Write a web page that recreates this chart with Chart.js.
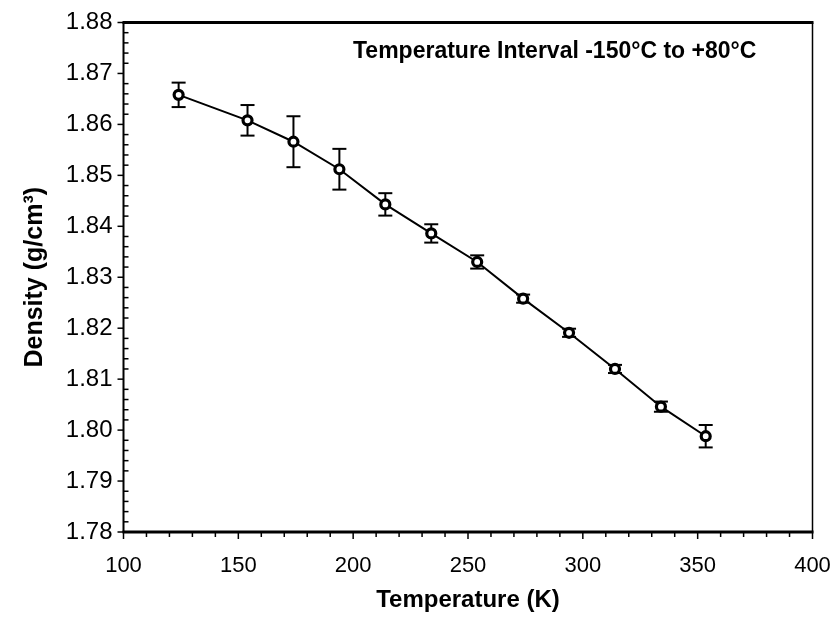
<!DOCTYPE html>
<html>
<head>
<meta charset="utf-8">
<script src="https://cdn.jsdelivr.net/npm/chart.js@4"></script>
<style>
  html, body { margin: 0; padding: 0; background: #fff; }
  #wrap { width: 833px; height: 617px; }
</style>
</head>
<body>
<div id="wrap"><canvas id="c" width="833" height="617"></canvas></div>
<script>
// Data
const temperatures = [124, 154, 174, 194, 214, 234, 254, 274, 294, 314, 334, 353.5];
const densities = [1.8658, 1.8608, 1.8566, 1.8512, 1.8443, 1.8386, 1.8330, 1.8258, 1.8191, 1.8120, 1.8046, 1.7988];
const errors = [0.0024, 0.0030, 0.0050, 0.0040, 0.0022, 0.0018, 0.0013, 0.0008, 0.0008, 0.0008, 0.0010, 0.0022];
const xTicks = [100, 150, 200, 250, 300, 350, 400];
const yTicks = [1.78, 1.79, 1.80, 1.81, 1.82, 1.83, 1.84, 1.85, 1.86, 1.87, 1.88];
const annotation = "Temperature Interval -150\u00B0C to +80\u00B0C";
const xTitle = "Temperature (K)";
const yTitle = "Density (g/cm\u00B3)";

const points = temperatures.map((t, i) => ({ x: t, y: densities[i] }));
const FONT = "'Liberation Sans', Arial, Helvetica, sans-serif";

const decorPlugin = {
  id: 'decor',
  beforeDatasetsDraw(chart) {
    const ctx = chart.ctx;
    const xs = chart.scales.x, ys = chart.scales.y;
    const a = chart.chartArea;
    ctx.save();
    ctx.strokeStyle = '#000';
    ctx.lineCap = 'butt';
    // frame
    ctx.lineWidth = 3;
    ctx.beginPath(); ctx.moveTo(a.left - 1, a.top); ctx.lineTo(a.right + 1, a.top); ctx.stroke();
    ctx.beginPath(); ctx.moveTo(a.left - 1, a.bottom); ctx.lineTo(a.right + 1, a.bottom); ctx.stroke();
    ctx.lineWidth = 2;
    ctx.beginPath(); ctx.moveTo(a.left, a.top); ctx.lineTo(a.left, a.bottom); ctx.stroke();
    ctx.lineWidth = 1.5;
    ctx.beginPath(); ctx.moveTo(a.right, a.top); ctx.lineTo(a.right, a.bottom); ctx.stroke();
    // x ticks (outward, below)
    ctx.lineWidth = 1.5;
    for (let v = 100; v <= 400; v += 10) {
      const px = xs.getPixelForValue(v);
      const major = v % 50 === 0;
      ctx.beginPath(); ctx.moveTo(px, a.bottom); ctx.lineTo(px, a.bottom + (major ? 7 : 5)); ctx.stroke();
    }
    // y ticks: major outward (left), minor inward (right)
    for (let k = 0; k <= 50; k++) {
      const v = 1.78 + k * 0.002;
      const py = ys.getPixelForValue(v);
      if (k % 5 === 0) {
        ctx.beginPath(); ctx.moveTo(a.left - 6, py); ctx.lineTo(a.left, py); ctx.stroke();
      } else {
        ctx.beginPath(); ctx.moveTo(a.left, py); ctx.lineTo(a.left + 5, py); ctx.stroke();
      }
    }
    // error bars
    ctx.lineWidth = 2;
    temperatures.forEach((t, i) => {
      const px = xs.getPixelForValue(t);
      const yt = ys.getPixelForValue(densities[i] + errors[i]);
      const yb = ys.getPixelForValue(densities[i] - errors[i]);
      ctx.beginPath(); ctx.moveTo(px, yt); ctx.lineTo(px, yb); ctx.stroke();
      ctx.beginPath(); ctx.moveTo(px - 7, yt); ctx.lineTo(px + 7, yt); ctx.stroke();
      ctx.beginPath(); ctx.moveTo(px - 7, yb); ctx.lineTo(px + 7, yb); ctx.stroke();
    });
    // annotation
    ctx.fillStyle = '#000';
    ctx.font = "bold 23px " + FONT;
    ctx.textAlign = 'left';
    ctx.textBaseline = 'alphabetic';
    ctx.fillText(annotation, 353, 58);
    ctx.restore();
  }
};

new Chart(document.getElementById('c'), {
  type: 'scatter',
  data: {
    datasets: [{
      data: points,
      showLine: true,
      borderColor: '#000',
      borderWidth: 2,
      pointRadius: 4.5,
      pointBorderWidth: 3.2,
      pointBackgroundColor: '#fff',
      pointBorderColor: '#000',
      pointHoverRadius: 4.5,
      tension: 0
    }]
  },
  plugins: [decorPlugin],
  options: {
    responsive: false,
    animation: false,
    events: [],
    layout: { padding: { top: 22.5, right: 20.5, left: 0, bottom: 0 } },
    plugins: { legend: { display: false }, tooltip: { enabled: false } },
    scales: {
      x: {
        type: 'linear',
        min: 100, max: 400,
        afterBuildTicks: s => { s.ticks = xTicks.map(v => ({ value: v })); },
        afterFit: s => { s.height = 85; s.paddingLeft = 0; s.paddingRight = 0; },
        grid: { display: false, drawTicks: false },
        border: { display: false },
        ticks: { color: '#000', font: { family: FONT, size: 22 }, padding: 21, maxRotation: 0 },
        title: { display: true, text: xTitle, color: '#000', font: { family: FONT, size: 24, weight: 'bold' }, padding: { top: 0, bottom: 2 } }
      },
      y: {
        type: 'linear',
        min: 1.78, max: 1.88,
        afterBuildTicks: s => { s.ticks = yTicks.map(v => ({ value: v })); },
        afterFit: s => { s.width = 123.5; s.paddingTop = 0; s.paddingBottom = 0; },
        grid: { display: false, drawTicks: false },
        border: { display: false },
        ticks: { color: '#000', font: { family: FONT, size: 24 }, padding: 11, callback: v => Number(v).toFixed(2) },
        title: { display: true, text: yTitle, color: '#000', font: { family: FONT, size: 25, weight: 'bold' }, padding: { top: 20, bottom: 0 } }
      }
    }
  }
});
</script>
</body>
</html>
